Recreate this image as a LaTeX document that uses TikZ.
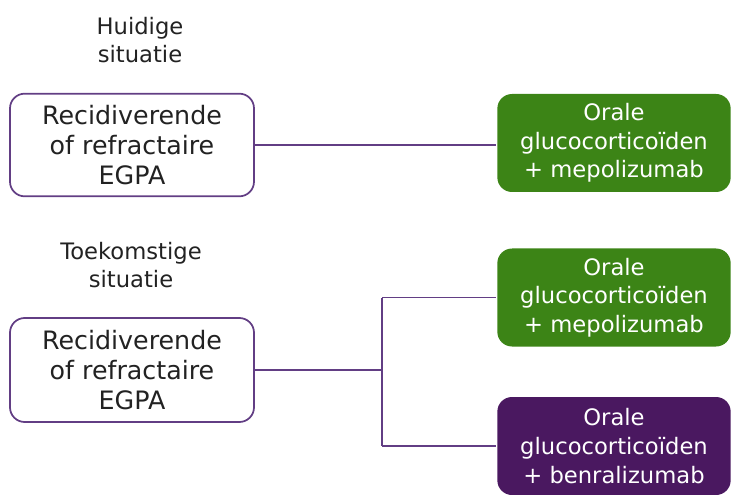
\documentclass[tikz,border=0pt]{standalone}
\usepackage{fontspec}
\setmainfont{DejaVu Sans}
\usetikzlibrary{positioning}
\definecolor{egpagreen}{RGB}{60,132,22}
\definecolor{egpapurple}{RGB}{74,24,96}
\definecolor{egpaline}{RGB}{98,62,132}
\definecolor{egpatext}{RGB}{34,34,34}

\begin{document}
\begin{tikzpicture}[x=0.75pt,y=-0.75pt]
\useasboundingbox (0,0) rectangle (731,495);
% kopjes
\begin{scope}[every node/.style={align=center,text=egpatext,font=\fontsize{17}{20.5}\selectfont}]
    \node (H) at (140,40) {Huidige\\situatie};
    \node (T) at (131,265) {Toekomstige\\situatie};
\end{scope}
% blokken
\begin{scope}[every node/.style={rounded corners=11pt,align=center,inner sep=0pt,
              font=\fontsize{17}{21.5}\selectfont,line width=1.3pt}]
    \node[draw=egpaline,text=egpatext,font=\fontsize{19}{22.5}\selectfont,minimum width=183pt,minimum height=77pt] (A) at (132,145) {Recidiverende\\of refractaire\\EGPA};
    \node[fill=egpagreen,text=white,minimum width=175pt,minimum height=73.5pt] (B) at (614,143) {Orale\\glucocorticoïden\\+ mepolizumab};
    \node[draw=egpaline,text=egpatext,font=\fontsize{19}{22.5}\selectfont,minimum width=183pt,minimum height=78pt] (C) at (132,370) {Recidiverende\\of refractaire\\EGPA};
    \node[fill=egpagreen,text=white,minimum width=175pt,minimum height=73.5pt] (D) at (614,297.5) {Orale\\glucocorticoïden\\+ mepolizumab};
    \node[fill=egpapurple,text=white,minimum width=175pt,minimum height=73.5pt] (E) at (614,446) {Orale\\glucocorticoïden\\+ benralizumab};
\end{scope}
\coordinate (J) at (382,370);
\begin{scope}[every edge/.style={draw=egpaline,line width=1.3pt}]
    \path [-] (A.east) edge (A.east -| B.west);
    \path [-] (C.east) edge (J);
    \path [-] (J |- D.west) edge (J |- E.west);
    \path [-] (J |- D.west) edge (D.west);
    \path [-] (J |- E.west) edge (E.west);
\end{scope}
\end{tikzpicture}
\end{document}
